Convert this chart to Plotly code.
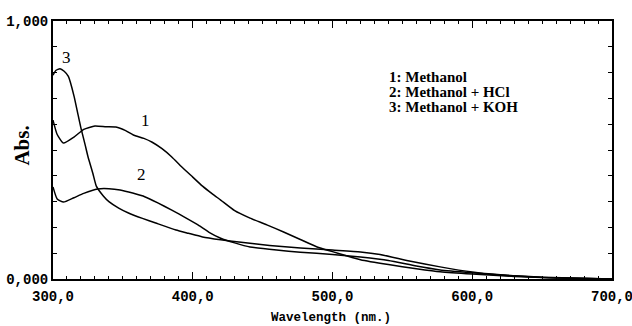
import plotly.graph_objects as go

# Curve 1: Methanol
wl_1 = [300, 303, 307.5, 315, 322, 330, 338, 345, 352, 357.5, 365, 371, 378, 385, 392, 400, 407, 414,
        420, 430, 441, 453, 465, 477, 489, 500, 510, 520, 540, 560, 577, 600, 630, 660, 700]
abs_1 = [0.616, 0.56, 0.527, 0.55, 0.58, 0.593, 0.59, 0.589, 0.575, 0.558, 0.545, 0.53, 0.505, 0.473,
         0.435, 0.395, 0.36, 0.33, 0.306, 0.265, 0.236, 0.21, 0.182, 0.153, 0.124, 0.106, 0.09, 0.075,
         0.056, 0.04, 0.028, 0.019, 0.01, 0.004, 0.0]

# Curve 2: Methanol + HCl
wl_2 = [300, 303, 307.5, 315, 322, 332, 340, 348, 357, 366, 375, 385, 395, 404, 412, 420, 430, 441,
        460, 477, 500, 520, 540, 560, 577, 600, 625, 650, 700]
abs_2 = [0.357, 0.31, 0.298, 0.315, 0.332, 0.349, 0.35, 0.345, 0.333, 0.318, 0.295, 0.267, 0.237,
         0.209, 0.18, 0.158, 0.14, 0.124, 0.112, 0.104, 0.095, 0.085, 0.072, 0.05, 0.035, 0.024,
         0.014, 0.007, 0.0]

# Curve 3: Methanol + KOH
wl_3 = [300, 302, 305, 308, 311, 315, 318, 320, 323, 325, 328.5, 331, 336, 340, 347, 354, 364, 373.5,
        388, 397, 407, 420, 433, 455, 477, 500, 520, 534, 555, 577, 600, 620, 640, 663, 700]
abs_3 = [0.79, 0.808, 0.815, 0.805, 0.785, 0.71, 0.635, 0.585, 0.52, 0.475, 0.41, 0.36, 0.322, 0.3, 0.275,
         0.256, 0.235, 0.217, 0.19, 0.177, 0.163, 0.152, 0.143, 0.13, 0.12, 0.112, 0.105, 0.095, 0.07,
         0.047, 0.027, 0.016, 0.009, 0.004, 0.0]

legend_lines = ["1: Methanol", "2: Methanol + HCl", "3: Methanol + KOH"]
curve_labels = [("1", 366, 0.616), ("2", 363, 0.405), ("3", 309.5, 0.86)]

fig = go.Figure()
for wl, ab in [(wl_1, abs_1), (wl_2, abs_2), (wl_3, abs_3)]:
    fig.add_trace(go.Scatter(x=wl, y=ab, mode="lines",
                             line=dict(color="black", width=1.5, shape="spline", smoothing=0.5),
                             showlegend=False, hoverinfo="skip"))

mono = "Liberation Mono"
serif = "Liberation Serif"

fig.update_layout(
    width=632, height=326,
    margin=dict(l=53, r=20, t=21, b=47),
    separators=", ",
    paper_bgcolor="white", plot_bgcolor="white",
    xaxis=dict(range=[300, 700], showgrid=False, zeroline=False, automargin=False,
               showline=True, linecolor="black", linewidth=2, mirror="allticks",
               ticks="inside", ticklen=7, tickwidth=1.2, tickcolor="black",
               tickmode="linear", tick0=300, dtick=100, tickformat=".1f",
               ticklabeloverflow="allow",
               minor=dict(tickmode="linear", tick0=300, dtick=10, ticks="inside", ticklen=3,
                          tickcolor="black", tickwidth=1.2),
               tickfont=dict(family=mono, size=14, color="black", weight="bold"),
               ticklabelstandoff=3),
    yaxis=dict(range=[0, 1], showgrid=False, zeroline=False, automargin=False,
               showline=True, linecolor="black", linewidth=2, mirror="allticks",
               ticks="inside", ticklen=4, tickwidth=1.2, tickcolor="black",
               tickmode="linear", tick0=0, dtick=1, tickformat=".3f",
               ticklabeloverflow="allow",
               minor=dict(tickmode="linear", tick0=0, dtick=0.1, ticks="inside", ticklen=4,
                          tickcolor="black", tickwidth=1.2),
               tickfont=dict(family=mono, size=14, color="black", weight="bold")),
)

for i, t in enumerate(legend_lines):
    fig.add_annotation(x=0.597, y=0.783 - i * 0.058, xref="paper", yref="paper", text=t, showarrow=False,
                       xanchor="left", yanchor="middle",
                       font=dict(family=serif, size=15, color="black", weight="bold"))

for t, xv, yv in curve_labels:
    fig.add_annotation(x=xv, y=yv, text=t, showarrow=False, xanchor="center", yanchor="middle",
                       font=dict(family=serif, size=17, color="black"))

fig.add_annotation(x=-0.056, y=0.516, xref="paper", yref="paper", text="Abs.", showarrow=False,
                   textangle=-90, xanchor="center", yanchor="middle",
                   font=dict(family=serif, size=21, color="black", weight="bold"))
fig.add_annotation(x=0.497, y=-0.151, xref="paper", yref="paper", text="Wavelength (nm.)", showarrow=False,
                   xanchor="center", yanchor="middle",
                   font=dict(family=mono, size=12.5, color="black", weight="bold"))

fig.write_html("out.html", config={"displayModeBar": False},
               post_script="document.body.style.margin='0';")
